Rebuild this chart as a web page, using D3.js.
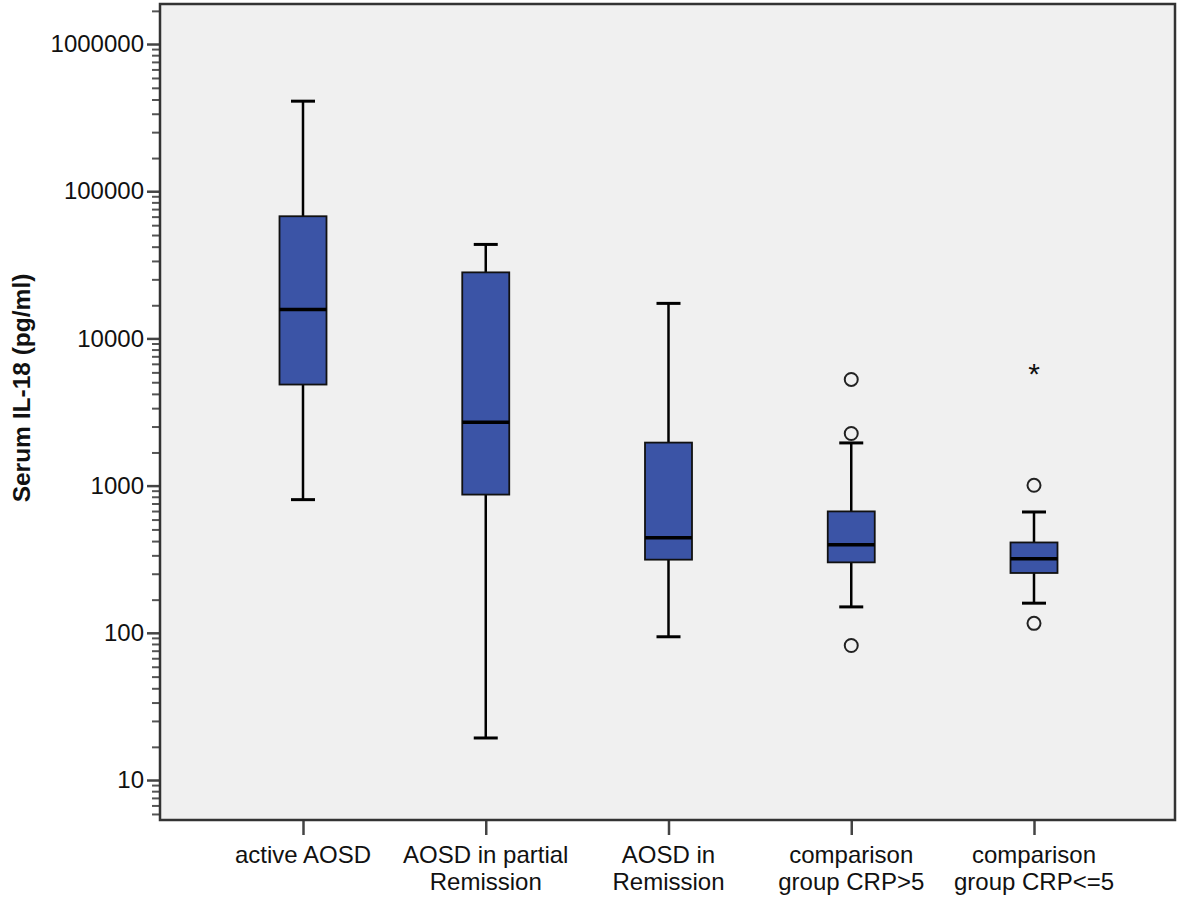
<!DOCTYPE html>
<html>
<head>
<meta charset="utf-8">
<script src="https://cdn.jsdelivr.net/npm/d3@7"></script>
<style>
  html, body { margin: 0; padding: 0; background: #ffffff; }
  svg { display: block; }
  text { font-family: "Liberation Sans", Arial, sans-serif; }
</style>
</head>
<body>
<svg id="chart" width="1181" height="897"></svg>
<script>
// ---- data ----
const categories = ["active AOSD", "AOSD in partial Remission", "AOSD in Remission", "comparison group CRP>5", "comparison group CRP<=5"];
const categoryLines = [["active AOSD"], ["AOSD in partial", "Remission"], ["AOSD in", "Remission"], ["comparison", "group CRP>5"], ["comparison", "group CRP<=5"]];
const whiskerLow  = [803, 19.3, 94, 150, 159];
const q1          = [4860, 869, 314, 301, 255];
const medians     = [15700, 2690, 443, 397, 318];
const q3          = [67600, 28100, 1960, 668, 411];
const whiskerHigh = [409000, 43500, 17300, 1950, 662];
const outlierCats   = [3, 3, 3, 4, 4];
const outlierValues = [5260, 2260, 82, 1005, 116];
const extremeCats   = [4];
const extremeValues = [6220];
const yTickValues = [10, 100, 1000, 10000, 100000, 1000000];
const yTickLabels = ["10", "100", "1000", "10000", "100000", "1000000"];
const minorMultipliers = [2, 3, 4, 5, 6, 7, 8, 9, 10, 11].map(k => k / 12);
const yTitle = "Serum IL-18 (pg/ml)";

// ---- layout ----
const svg = d3.select("#chart");
const plot = { left: 160, right: 1175, top: 4, bottom: 820 };

const x = d3.scalePoint().domain(categories).range([303, 1034]);
const y = d3.scaleLog().domain([5.35, 1.87e6]).range([plot.bottom, plot.top]);

// plot background
svg.append("rect")
  .attr("x", plot.left).attr("y", plot.top)
  .attr("width", plot.right - plot.left).attr("height", plot.bottom - plot.top)
  .attr("fill", "#f0f0f0");

// minor ticks
const minorTicks = [];
for (let e = 0; e <= 7; e++) {
  minorMultipliers.forEach(m => {
    const v = Math.pow(10, e) * m * 10 / 10;
    const val = Math.pow(10, e + 1) * m;
    if (val > y.domain()[0] && val < y.domain()[1]) minorTicks.push(val);
  });
}
svg.append("g")
  .selectAll("line").data(minorTicks).join("line")
  .attr("x1", plot.left - 8).attr("x2", plot.left)
  .attr("y1", d => y(d)).attr("y2", d => y(d))
  .attr("stroke", "#555").attr("stroke-width", 2);

// major y axis
const yAxis = d3.axisLeft(y).tickValues(yTickValues)
  .tickFormat((d, i) => yTickLabels[i]).tickSize(13).tickPadding(3);
const gy = svg.append("g").attr("transform", `translate(${plot.left},0)`).call(yAxis);
gy.select(".domain").remove();
gy.selectAll(".tick line").attr("stroke", "#444").attr("stroke-width", 2.5);
gy.selectAll(".tick text").attr("font-size", 24).attr("fill", "#111")
  .attr("textLength", function (d, i) { return null; });

// x axis
const xAxis = d3.axisBottom(x).tickSize(15).tickFormat("");
const gx = svg.append("g").attr("transform", `translate(0,${plot.bottom})`).call(xAxis);
gx.select(".domain").remove();
gx.selectAll(".tick line").attr("stroke", "#444").attr("stroke-width", 2.5);

// category labels (multi-line)
const labelG = svg.append("g");
categories.forEach((c, i) => {
  const t = labelG.append("text")
    .attr("x", x(c)).attr("y", 863)
    .attr("text-anchor", "middle").attr("font-size", 24).attr("fill", "#111");
  categoryLines[i].forEach((ln, j) => {
    t.append("tspan").attr("x", x(c)).attr("dy", j === 0 ? 0 : 27).text(ln);
  });
});

// y title
svg.append("text")
  .attr("transform", `translate(30,388) rotate(-90)`)
  .attr("text-anchor", "middle")
  .attr("font-size", 24.5).attr("font-weight", "bold").attr("fill", "#111")
  .text(yTitle);

// ---- boxes ----
const boxW = 47, capW = 24;
const boxes = svg.append("g");
categories.forEach((c, i) => {
  const cx = x(c);
  const g = boxes.append("g");
  // whisker stems
  g.append("line").attr("x1", cx).attr("x2", cx)
    .attr("y1", y(whiskerHigh[i])).attr("y2", y(q3[i]))
    .attr("stroke", "#000").attr("stroke-width", 2.5);
  g.append("line").attr("x1", cx).attr("x2", cx)
    .attr("y1", y(q1[i])).attr("y2", y(whiskerLow[i]))
    .attr("stroke", "#000").attr("stroke-width", 2.5);
  // caps
  [whiskerHigh[i], whiskerLow[i]].forEach(v => {
    g.append("line").attr("x1", cx - capW / 2).attr("x2", cx + capW / 2)
      .attr("y1", y(v)).attr("y2", y(v))
      .attr("stroke", "#000").attr("stroke-width", 3);
  });
  // box
  g.append("rect")
    .attr("x", cx - boxW / 2).attr("y", y(q3[i]))
    .attr("width", boxW).attr("height", y(q1[i]) - y(q3[i]))
    .attr("fill", "#3b54a6").attr("stroke", "#111").attr("stroke-width", 1.8);
  // median
  g.append("line").attr("x1", cx - boxW / 2).attr("x2", cx + boxW / 2)
    .attr("y1", y(medians[i])).attr("y2", y(medians[i]))
    .attr("stroke", "#000").attr("stroke-width", 3.5);
});

// outliers
svg.append("g").selectAll("circle")
  .data(outlierValues.map((v, i) => ({ c: categories[outlierCats[i]], v })))
  .join("circle")
  .attr("cx", d => x(d.c)).attr("cy", d => y(d.v))
  .attr("r", 6.5).attr("fill", "none").attr("stroke", "#222").attr("stroke-width", 2);

// extremes (asterisk)
svg.append("g").selectAll("text")
  .data(extremeValues.map((v, i) => ({ c: categories[extremeCats[i]], v })))
  .join("text")
  .attr("x", d => x(d.c)).attr("y", d => y(d.v) + 15)
  .attr("text-anchor", "middle").attr("font-size", 30).attr("fill", "#111")
  .text("*");

// frame
svg.append("rect")
  .attr("x", plot.left).attr("y", plot.top)
  .attr("width", plot.right - plot.left).attr("height", plot.bottom - plot.top)
  .attr("fill", "none").attr("stroke", "#333").attr("stroke-width", 2.5);
</script>
</body>
</html>
